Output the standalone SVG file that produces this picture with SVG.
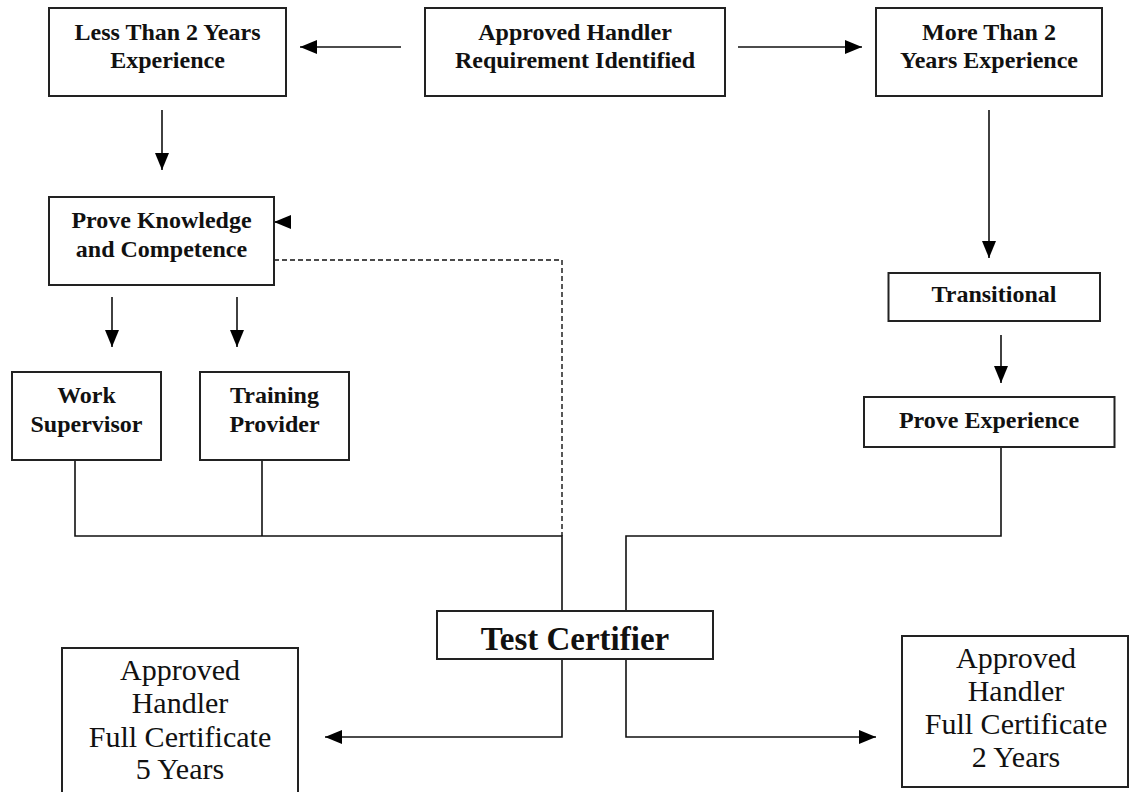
<svg xmlns="http://www.w3.org/2000/svg" width="1131" height="792" viewBox="0 0 1131 792">
<style>
.box{fill:#fff;stroke:#222;stroke-width:2}
.t{font-family:"Liberation Serif","Times New Roman",serif;font-weight:bold;font-size:24px;fill:#111;text-anchor:middle}
.big{font-family:"Liberation Serif","Times New Roman",serif;font-size:30px;fill:#111;text-anchor:middle}
.tc{font-family:"Liberation Serif","Times New Roman",serif;font-weight:bold;font-size:33px;fill:#111;text-anchor:middle}
.ln{fill:none;stroke:#111;stroke-width:1.6}
.dash{fill:none;stroke:#111;stroke-width:1.4;stroke-dasharray:5 3}
</style>
<defs>
<marker id="ah" markerUnits="userSpaceOnUse" markerWidth="17" markerHeight="14" refX="17" refY="7" orient="auto">
<path d="M0,0 L17,7 L0,14 z" fill="#000"/>
</marker>
</defs>
<rect width="1131" height="792" fill="#fff"/>

<g id="connectors">
<line class="ln" x1="401" y1="47" x2="300" y2="47" marker-end="url(#ah)"/>
<line class="ln" x1="738" y1="47" x2="862" y2="47" marker-end="url(#ah)"/>
<line class="ln" x1="162" y1="110" x2="162" y2="170" marker-end="url(#ah)"/>
<line class="ln" x1="989" y1="110" x2="989" y2="258" marker-end="url(#ah)"/>
<line class="ln" x1="290" y1="222" x2="274" y2="222" marker-end="url(#ah)"/>
<line class="ln" x1="112" y1="297" x2="112" y2="347" marker-end="url(#ah)"/>
<line class="ln" x1="237" y1="297" x2="237" y2="347" marker-end="url(#ah)"/>
<line class="ln" x1="1001" y1="335" x2="1001" y2="383" marker-end="url(#ah)"/>
<polyline class="dash" points="274,260 562,260 562,536"/>
<polyline class="ln" points="75,460 75,536 562,536 562,611"/>
<line class="ln" x1="262" y1="460" x2="262" y2="536"/>
<polyline class="ln" points="1001,447 1001,536 626,536 626,611"/>
<polyline class="ln" points="562,659 562,737 325,737" marker-end="url(#ah)"/>
<polyline class="ln" points="626,659 626,737 876,737" marker-end="url(#ah)"/>
</g>

<g id="less-than">
<rect class="box" x="49" y="8" width="237" height="88"/>
<text class="t" x="167.5" y="40">Less Than 2 Years</text>
<text class="t" x="167.5" y="68">Experience</text>
</g>
<g id="approved-requirement">
<rect class="box" x="425" y="8" width="300" height="88"/>
<text class="t" x="575" y="40">Approved Handler</text>
<text class="t" x="575" y="68">Requirement Identified</text>
</g>
<g id="more-than">
<rect class="box" x="876" y="8" width="226" height="88"/>
<text class="t" x="989" y="40">More Than 2</text>
<text class="t" x="989" y="68">Years Experience</text>
</g>
<g id="prove-knowledge">
<rect class="box" x="49" y="197" width="225" height="88"/>
<text class="t" x="161.5" y="228">Prove Knowledge</text>
<text class="t" x="161.5" y="257">and Competence</text>
</g>
<g id="work-supervisor">
<rect class="box" x="12" y="372" width="149" height="88"/>
<text class="t" x="86.5" y="403">Work</text>
<text class="t" x="86.5" y="432">Supervisor</text>
</g>
<g id="training-provider">
<rect class="box" x="200" y="372" width="149" height="88"/>
<text class="t" x="274.5" y="403">Training</text>
<text class="t" x="274.5" y="432">Provider</text>
</g>
<g id="transitional">
<rect class="box" x="888.5" y="273" width="211.5" height="48"/>
<text class="t" x="994" y="302">Transitional</text>
</g>
<g id="prove-experience">
<rect class="box" x="864" y="397" width="250.5" height="50"/>
<text class="t" x="989" y="428">Prove Experience</text>
</g>
<g id="test-certifier">
<rect class="box" x="437" y="611" width="276" height="48"/>
<text class="tc" x="575" y="650">Test Certifier</text>
</g>
<g id="cert-5-years">
<rect class="box" x="62" y="648" width="236" height="160"/>
<text class="big" x="180" y="680">Approved</text>
<text class="big" x="180" y="713">Handler</text>
<text class="big" x="180" y="747">Full Certificate</text>
<text class="big" x="180" y="779">5 Years</text>
</g>
<g id="cert-2-years">
<rect class="box" x="902" y="636" width="226" height="151"/>
<text class="big" x="1016" y="668">Approved</text>
<text class="big" x="1016" y="701">Handler</text>
<text class="big" x="1016" y="734">Full Certificate</text>
<text class="big" x="1016" y="767">2 Years</text>
</g>
</svg>
